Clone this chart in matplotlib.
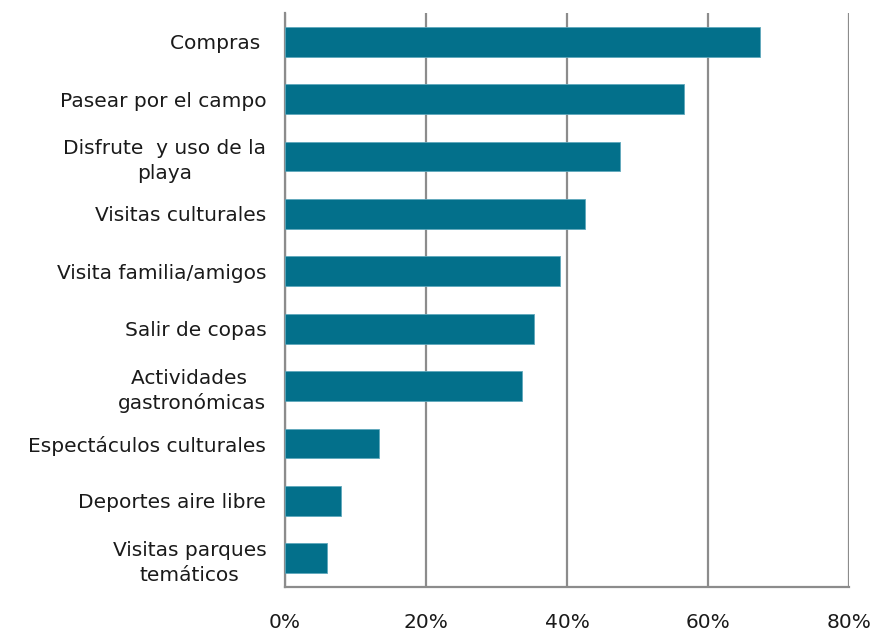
import matplotlib
matplotlib.use("Agg")
import matplotlib.pyplot as plt
from matplotlib.ticker import FuncFormatter

categories = [
    "Compras ",
    "Pasear por el campo",
    "Disfrute  y uso de la\nplaya",
    "Visitas culturales",
    "Visita familia/amigos",
    "Salir de copas",
    "Actividades \ngastronómicas",
    "Espectáculos culturales",
    "Deportes aire libre",
    "Visitas parques\ntemáticos",
]
values = [67.4, 56.6, 47.5, 42.5, 39.0, 35.3, 33.6, 13.4, 8.0, 6.0]
xticks = [0, 20, 40, 60, 80]

bar_color = "#03708B"
grid_color = "#8C8C8C"

plt.rcParams["font.family"] = ["DejaVu Sans"]

fig = plt.figure(figsize=(8.71, 6.34), dpi=100)
ax = fig.add_axes([285 / 871, 1 - 587 / 634, (849 - 285) / 871, (587 - 13) / 634])

pos = list(range(len(categories)))
ax.barh(pos, values, height=0.52, color=bar_color, edgecolor="#5FA8BC", linewidth=0.6, zorder=3)
ax.set_ylim(len(categories) - 0.5, -0.5)
ax.set_xlim(0, 80)

ax.set_xticks(xticks)
ax.xaxis.set_major_formatter(FuncFormatter(lambda v, p: f"{v:.0f}%"))
ax.set_yticks(pos)
ax.set_yticklabels(categories, multialignment="center", linespacing=1.35)

ax.grid(axis="x", color=grid_color, linewidth=1.6, zorder=0)
ax.tick_params(axis="y", length=0, pad=13.5, labelsize=14.5, colors="#1a1a1a")
ax.tick_params(axis="x", length=0, pad=19, labelsize=14.5, colors="#1a1a1a")

for s in ["top", "right"]:
    ax.spines[s].set_visible(False)
for s in ["left", "bottom"]:
    ax.spines[s].set_color(grid_color)
    ax.spines[s].set_linewidth(1.6)

fig.savefig("out.png", dpi=100, facecolor="white")
